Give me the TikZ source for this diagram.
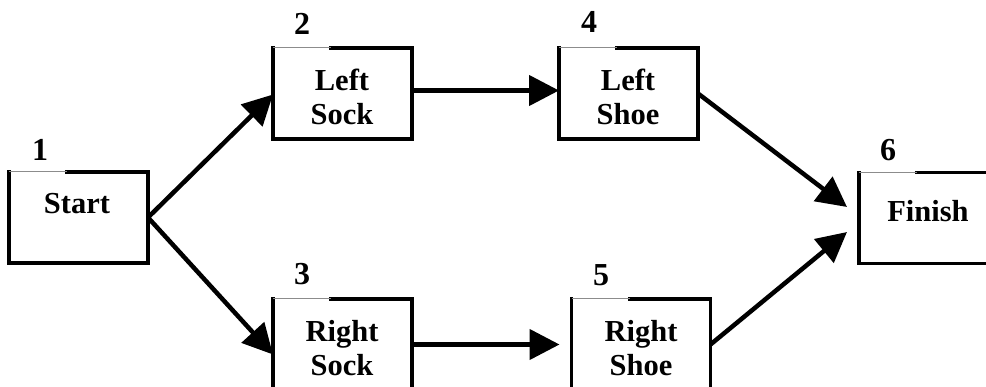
\documentclass[tikz,border=0pt]{standalone}
\usepackage{fontspec}
\setmainfont{Liberation Serif}
\usetikzlibrary{arrows.meta,calc}
\newcommand\pertbox[1]{%
  \draw[boxline] ($(#1.north west)+(58,0)$) -- (#1.north east) -- (#1.south east) -- (#1.south west) -- (#1.north west);
  \draw[thinline] (#1.north west) -- ($(#1.north west)+(58,0)$);}
\begin{document}
\begin{tikzpicture}[x=1pt,y=-1pt,
  task/.style={rectangle,draw=none,minimum width=139pt,minimum height=91pt,inner sep=0pt,outer sep=0pt},
  boxline/.style={line width=3.2pt,line join=miter,line cap=rect},
  thinline/.style={line width=1pt,black!45},
  lab/.style={font=\fontsize{30.5}{34}\selectfont\bfseries,align=center,inner sep=0pt},
  num/.style={font=\fontsize{32}{36}\selectfont\bfseries,anchor=base,inner sep=0pt},
  arr/.style={line width=4.5pt,-{Triangle[length=30pt,width=30pt]}}]
\fill[white] (0,0) rectangle (986,387);
\useasboundingbox (0,0) rectangle (986,387);
% boxes
\node[task] (b1) at (78.5,217.5) {};
\node[task] (b2) at (342.5,93.5) {};
\node[task] (b3) at (342.5,344.5) {};
\node[task] (b4) at (628.5,93.5) {};
\node[task] (b5) at (641,344.5) {};
\node[task] (b6) at (928.5,218) {};
\pertbox{b1}\pertbox{b2}\pertbox{b3}\pertbox{b4}\pertbox{b5}\pertbox{b6}
% labels
\node[lab,anchor=base] (t1) at (77,214) {Start};
\node[lab] (t2) at (342,96.5) {Left\\Sock};
\node[lab] (t3) at (342,348) {Right\\Sock};
\node[lab] (t4) at (628,96.5) {Left\\Shoe};
\node[lab] (t5) at (641,348) {Right\\Shoe};
\node[lab,anchor=base] (t6) at (928,222) {Finish};
% numbers
\node[num] (n1) at (40,161) {1};
\node[num] (n2) at (302,35) {2};
\node[num] (n3) at (302,285) {3};
\node[num] (n4) at (589,33) {4};
\node[num] (n5) at (601,286) {5};
\node[num] (n6) at (888,161) {6};
% arrows
\draw[arr] (b1.east) -- ($(b2.west)+(0,1)$);
\draw[arr] (b1.east) -- ($(b3.west)+(0,10)$);
\draw[arr] ($(b2.east)+(0,-3)$) -- ($(b4.west)+(0,-3)$);
\draw[arr] (b3.east) -- ($(b5.west)+(-12,0)$);
\draw[arr] (b4.east) -- ($(b6.west)+(-12,-11)$);
\draw[arr] (b5.east) -- ($(b6.west)+(-12,14)$);
\end{tikzpicture}
\end{document}
